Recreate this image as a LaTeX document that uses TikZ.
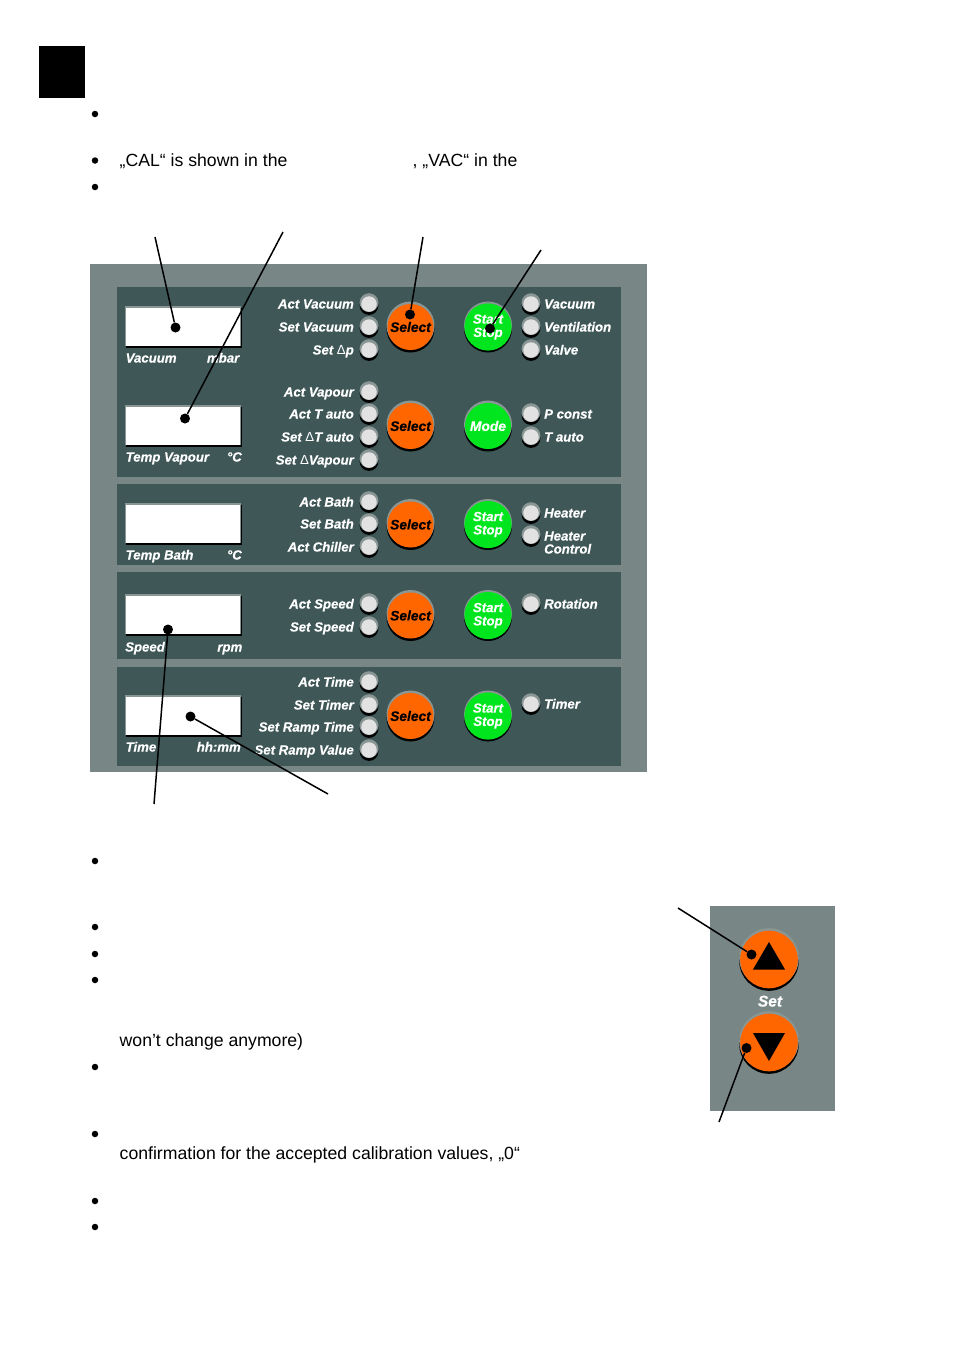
\documentclass[tikz,border=0pt]{standalone}
\usepackage{fontspec}
\setmainfont{Liberation Sans}
\newfontfamily\labf[UprightFont=* Bold Italic,FakeBold=0.4]{Liberation Sans}
\definecolor{outerp}{HTML}{788785}
\definecolor{innerp}{HTML}{3F5757}
\definecolor{rim}{HTML}{8A9694}
\definecolor{ledc}{HTML}{E2E2E2}
\definecolor{orangeb}{HTML}{FF6600}
\definecolor{greenb}{HTML}{00E51E}
\tikzset{
  body/.style={font=\fontsize{17.65}{20}\selectfont,anchor=base west,inner sep=0pt,text=black},
  lab/.style={font=\fontsize{13.2}{14}\labf,text=white,inner sep=0pt},
  bul/.style={circle,fill=black,inner sep=0pt,minimum size=6.5pt},
  dotm/.style={circle,fill=black,inner sep=0pt,minimum size=10pt},
  leader/.style={draw=black,line width=1.5pt},
  panel/.style={fill=innerp,draw=none},
  ledf/.style={circle,fill=ledc,inner sep=0pt,minimum size=15.5pt},
}
\newcommand{\Led}[3]{% name x y
  \fill[black] (#2,#3+1.5) circle (9.4);
  \fill[rim] (#2,#3-1.4) circle (9.4);
  \node[ledf] (#1) at (#2,#3) {};
}
\newcommand{\LedL}[3]{% name y text (left column)
  \Led{#1}{369}{#2}
  \node[lab,anchor=base east] (#1t) at (354,#2+4.5) {#3};
}
\newcommand{\LedR}[3]{% name y text (right column)
  \Led{#1}{531}{#2}
  \node[lab,anchor=base west] (#1t) at (544,#2+4.5) {#3};
}
\newcommand{\Btn}[6]{% name x y radius color text
  \fill[black] (#2,#3+1.5) circle (#4+0.5);
  \fill[rim] (#2,#3-1.5) circle (#4+0.5);
  \node[circle,fill=#5,inner sep=0pt,minimum size=2*#4 pt-1pt] (#1) at (#2,#3) {#6};
}
\newcommand{\Disp}[2]{% name top y
  \fill[black] (125.5,#2+0.5) rectangle (241.8,#2+41);
  \fill[rim] (124.5,#2-0.8) rectangle (240.5,#2+39);
  \node[fill=white,inner sep=0pt,minimum width=114pt,minimum height=38pt,anchor=north west] (#1) at (126,#2+0.4) {};
}
\newcommand{\Del}{{\normalfont Δ}}
\newcommand{\Sel}{\fontsize{13.8}{14}\labf\color{black}Select}
\newcommand{\Sta}{\vbox{\hsize=40pt\fontsize{13.2}{13.3}\labf\color{white}\baselineskip=13.3pt\lineskiplimit=-20pt\parindent=0pt\leftskip=0pt plus 1fil\rightskip=0pt plus 1fil\parfillskip=0pt Start\par Stop}}
\begin{document}
\begin{tikzpicture}[x=1pt,y=-1pt]
\useasboundingbox (0,0) rectangle (954,1350);
\fill[white] (0,0) rectangle (954,1350);
% black tab
\node[fill=black,inner sep=0pt,minimum width=46pt,minimum height=52pt,anchor=north west] (tab) at (39,46) {};
% bullets
\foreach \n/\y in {a/114,b/160.5,c/187,d/861,e/927,f/954,g/980,h/1067,i/1134,j/1201,k/1227}
  \node[bul] (bul\n) at (95,\y) {};
% body text
\node[body] (t1) at (119.5,166) {„CAL“ is shown in the};
\node[body] (t2) at (412.5,166) {, „VAC“ in the};
\node[body] (t3) at (119.5,1046) {won’t change anymore)};
\node[body] (t4) at (119.5,1159) {confirmation for the accepted calibration values, „0“};
% main panel
\fill[outerp] (90,264) rectangle (647,772);
\fill[panel] (116.5,287) rectangle (621,477);
\fill[panel] (116.5,484) rectangle (621,564.5);
\fill[panel] (116.5,572) rectangle (621,659);
\fill[panel] (116.5,666.5) rectangle (621,766);
% displays
\Disp{d1}{307}
\Disp{d2}{406}
\Disp{d3}{504}
\Disp{d4}{595}
\Disp{d5}{696}
% display captions
\node[lab,anchor=base west] (c1a) at (125.5,362.5) {Vacuum};
\node[lab,anchor=base east] (c1b) at (239.5,362.5) {mbar};
\node[lab,anchor=base west] (c2a) at (125.5,461.5) {Temp Vapour};
\node[lab,anchor=base east] (c2b) at (242,461.5) {°C};
\node[lab,anchor=base west] (c3a) at (125.5,559.5) {Temp Bath};
\node[lab,anchor=base east] (c3b) at (242,559.5) {°C};
\node[lab,anchor=base west] (c4a) at (125,651.5) {Speed};
\node[lab,anchor=base east] (c4b) at (242.5,651.5) {rpm};
\node[lab,anchor=base west] (c5a) at (125.5,751.5) {Time};
\node[lab,anchor=base east] (c5b) at (241,751.5) {hh:mm};
% left LEDs
\LedL{la}{304}{Act Vacuum}
\LedL{lb}{327}{Set Vacuum}
\LedL{lc}{350}{Set \Del p}
\LedL{ld}{392}{Act Vapour}
\LedL{le}{414}{Act T auto}
\LedL{lf}{437}{Set \Del T auto}
\LedL{lg}{460}{Set \Del Vapour}
\LedL{lh}{502}{Act Bath}
\LedL{li}{524}{Set Bath}
\LedL{lj}{547}{Act Chiller}
\LedL{lk}{604}{Act Speed}
\LedL{ll}{627}{Set Speed}
\LedL{lm}{682}{Act Time}
\LedL{ln}{705}{Set Timer}
\LedL{lo}{727}{Set Ramp Time}
\LedL{lp}{750}{Set Ramp Value}
% right LEDs
\LedR{ra}{304}{Vacuum}
\LedR{rb}{327}{Ventilation}
\LedR{rc}{350}{Valve}
\LedR{rd}{414}{P const}
\LedR{re}{437}{T auto}
\LedR{rf}{513}{Heater}
\Led{rg}{531}{536}
\node[lab,anchor=base west] (rgt) at (544,540.5) {Heater};
\node[lab,anchor=base west] (rgu) at (544,553.5) {Control};
\LedR{rh}{604}{Rotation}
\LedR{ri}{704}{Timer}
% select buttons
\Btn{s1}{410.5}{327}{23.5}{orangeb}{\Sel}
\Btn{s2}{410.5}{426}{23.5}{orangeb}{\Sel}
\Btn{s3}{410.5}{524.5}{23.5}{orangeb}{\Sel}
\Btn{s4}{410.5}{615.5}{23.5}{orangeb}{\Sel}
\Btn{s5}{410.5}{716}{23.5}{orangeb}{\Sel}
% green buttons
\Btn{g1}{488}{327}{23.5}{greenb}{\Sta}
\Btn{g2}{488}{426}{23.5}{greenb}{\fontsize{13.8}{14}\labf\color{white}Mode}
\Btn{g3}{488}{524.5}{23.5}{greenb}{\Sta}
\Btn{g4}{488}{615.5}{23.5}{greenb}{\Sta}
\Btn{g5}{488}{716}{23.5}{greenb}{\Sta}
% set panel
\fill[outerp] (710,906) rectangle (835,1111);
\Btn{up}{769}{959.5}{29.3}{orangeb}{}
\Btn{dn}{769}{1042.5}{29.3}{orangeb}{}
\fill[black] (753,969.5) -- (785,969.5) -- (769,942) -- cycle;
\fill[black] (753,1033) -- (785,1033) -- (769,1061) -- cycle;
\node[lab,font=\fontsize{15.5}{15}\labf,anchor=base] (setl) at (770,1006.5) {Set};
% leader dots
\node[dotm] (p1) at (175.5,327.5) {};
\node[dotm] (p2) at (185,418.5) {};
\node[dotm] (p3) at (410,314.5) {};
\node[dotm] (p4) at (490,328.5) {};
\node[dotm] (p5) at (168,629.5) {};
\node[dotm] (p6) at (190.5,716.5) {};
\node[dotm] (p7) at (751.5,954.5) {};
\node[dotm] (p8) at (746.5,1048) {};
\coordinate (q1) at (155,237);
\coordinate (q2) at (283,232);
\coordinate (q3) at (423,237);
\coordinate (q4) at (541,250);
\coordinate (q5) at (154,804);
\coordinate (q6) at (328,794);
\coordinate (q7) at (678,908);
\coordinate (q8) at (719,1122);
\foreach \i in {1,...,8} \draw[leader] (q\i) -- (p\i);
\end{tikzpicture}
\end{document}
